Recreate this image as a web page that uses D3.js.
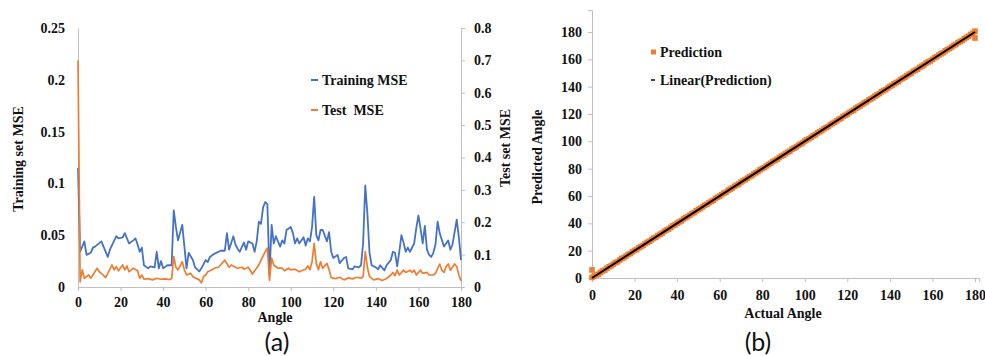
<!DOCTYPE html>
<html>
<head>
  <meta charset="utf-8">
  <title>MSE per angle and predicted vs actual angle</title>
  <script src="https://d3js.org/d3.v7.min.js"></script>
  <style>
    body { margin: 0; background: #fff; }
    text { font-family: "Liberation Serif", "Times New Roman", serif; font-weight: bold; font-size: 14px; fill: #111; }
    .panel-label { font-family: Lato, "Open Sans", sans-serif; font-weight: normal; font-size: 25px; }
    .axis path, .axis line { stroke: #bfbfbf; }
  </style>
</head>
<body>
  <svg width="985" height="356"></svg>
  <script>
    // (a) training / test MSE per angle
    const trainAngle = [0,1,3,4,6,7,8,11,12,14,15,18,19,21,22,23,24,26,27,28,29,30,31,33,34,36,37,38,39,40,42,44,45,46,47,49,50,51,52,54,55,57,58,60,61,62,64,67,69,70,71,73,74,75,76,78,79,80,82,83,84,85,86,87,88,89,90,91,92,93,95,96,97,98,100,101,102,103,104,106,107,108,109,110,111,112,113,114,115,117,118,119,120,122,123,125,126,127,129,130,132,133,134,135,136,137,138,140,141,142,144,145,147,148,149,150,151,152,153,154,155,156,158,159,160,161,162,163,164,165,166,167,168,169,170,172,173,174,175,176,178,179,180];
    const trainMSE = [0.115,0.034,0.044,0.031,0.033,0.038,0.039,0.044,0.039,0.029,0.036,0.049,0.047,0.048,0.052,0.047,0.042,0.045,0.047,0.041,0.034,0.038,0.021,0.018,0.020,0.019,0.034,0.018,0.025,0.018,0.021,0.021,0.074,0.058,0.045,0.060,0.039,0.018,0.033,0.026,0.019,0.015,0.018,0.026,0.024,0.029,0.032,0.035,0.035,0.052,0.036,0.049,0.041,0.037,0.034,0.043,0.036,0.044,0.042,0.034,0.044,0.063,0.061,0.077,0.082,0.080,0.012,0.060,0.042,0.049,0.039,0.045,0.042,0.055,0.058,0.052,0.042,0.047,0.042,0.048,0.040,0.047,0.044,0.058,0.087,0.050,0.045,0.055,0.055,0.044,0.053,0.034,0.028,0.031,0.023,0.028,0.029,0.018,0.017,0.020,0.019,0.021,0.042,0.098,0.071,0.033,0.021,0.019,0.017,0.021,0.016,0.021,0.026,0.034,0.033,0.020,0.034,0.050,0.043,0.034,0.038,0.034,0.042,0.057,0.069,0.056,0.042,0.059,0.036,0.031,0.029,0.033,0.041,0.063,0.052,0.039,0.042,0.045,0.036,0.041,0.065,0.048,0.026];

    const testAngle = [0,1,2,3,5,6,9,10,11,13,14,16,17,18,19,21,22,23,24,26,28,29,30,31,33,35,37,39,41,43,44,45,46,47,49,50,51,53,54,57,58,59,60,61,63,64,66,67,69,71,72,74,75,77,78,80,82,83,85,86,88,89,90,91,92,94,96,97,99,100,102,104,105,107,108,109,110,111,112,113,114,115,117,118,119,121,123,125,127,129,131,133,134,135,136,137,139,141,143,145,147,148,149,150,151,153,154,156,157,158,159,161,162,164,165,167,168,170,171,172,173,174,175,177,178,179,180];
    const testMSE = [0.70,0.016,0.053,0.027,0.037,0.027,0.058,0.047,0.042,0.029,0.042,0.068,0.053,0.063,0.050,0.068,0.053,0.065,0.047,0.058,0.050,0.027,0.037,0.024,0.026,0.022,0.027,0.024,0.025,0.023,0.026,0.094,0.061,0.053,0.078,0.053,0.037,0.042,0.032,0.022,0.013,0.032,0.037,0.047,0.053,0.058,0.061,0.068,0.083,0.061,0.068,0.061,0.058,0.061,0.055,0.061,0.040,0.050,0.068,0.083,0.109,0.120,0.020,0.089,0.068,0.058,0.058,0.050,0.058,0.053,0.055,0.047,0.050,0.055,0.065,0.053,0.078,0.135,0.073,0.053,0.078,0.058,0.073,0.053,0.029,0.026,0.030,0.022,0.028,0.025,0.030,0.027,0.032,0.109,0.061,0.032,0.022,0.026,0.020,0.026,0.037,0.045,0.035,0.052,0.037,0.052,0.045,0.052,0.045,0.052,0.037,0.052,0.042,0.045,0.037,0.037,0.042,0.071,0.052,0.045,0.063,0.071,0.052,0.071,0.063,0.037,0.019];

    const angleTicks = [0, 20, 40, 60, 80, 100, 120, 140, 160, 180];
    const trainTicks = [0, 0.05, 0.1, 0.15, 0.2, 0.25];
    const testTicks = [0, 0.1, 0.2, 0.3, 0.4, 0.5, 0.6, 0.7, 0.8];

    // (b) predicted vs actual angle, one point per degree
    const actualAngle = d3.range(0, 181);
    const predictedAngle = [
      5.9, 1.3, 2.2, 2.8, 4.1, 5.2, 5.8, 7.1, 8.2, 8.9,
      10.1, 11.2, 11.8, 13.1, 14.3, 14.9, 16.0, 17.2, 17.9, 19.1,
      20.2, 20.8, 22.1, 23.0, 23.8, 25.2, 26.1, 26.9, 28.0, 29.2,
      29.8, 31.1, 32.0, 32.9, 34.2, 35.1, 35.8, 37.0, 38.2, 38.9,
      40.1, 41.0, 41.8, 43.2, 44.1, 44.9, 46.0, 47.1, 47.8, 49.2,
      50.1, 50.9, 52.0, 53.2, 53.9, 55.1, 56.0, 56.8, 58.2, 59.1,
      59.9, 61.0, 62.1, 62.8, 64.2, 65.0, 65.9, 67.1, 68.0, 68.8,
      70.2, 71.1, 71.9, 73.0, 74.2, 74.8, 76.1, 77.0, 77.9, 79.2,
      80.1, 80.8, 82.0, 83.1, 83.9, 85.2, 86.0, 86.8, 88.1, 89.2,
      89.9, 91.0, 92.1, 92.8, 94.2, 95.0, 95.9, 97.1, 98.0, 98.8,
      100.2, 101.1, 101.9, 103.0, 104.1, 104.8, 106.2, 107.0, 107.9, 109.1,
      110.0, 110.8, 112.2, 113.1, 113.9, 115.0, 116.1, 116.8, 118.2, 119.0,
      119.9, 121.1, 122.0, 122.8, 124.2, 125.1, 125.9, 127.0, 128.1, 128.9,
      130.2, 131.0, 131.8, 133.1, 134.0, 134.9, 136.2, 137.1, 137.8, 139.0,
      140.2, 140.9, 142.1, 143.0, 143.8, 145.2, 146.1, 146.9, 148.0, 149.1,
      149.9, 151.2, 152.0, 152.8, 154.1, 155.0, 155.9, 157.2, 158.1, 158.8,
      160.0, 161.2, 161.9, 163.1, 164.0, 164.8, 166.2, 167.1, 167.9, 169.0,
      170.1, 170.9, 172.2, 173.0, 173.8, 175.1, 176.0, 176.9, 178.2, 179.1,
      175.6
    ];
    // a couple of extra points at the ends of the band
    const extraActual = [0, 180];
    const extraPredicted = [0.4, 180.6];
    const trendActual = [0, 180];
    const trendPredicted = [0, 180];
    const predTicks = [0, 20, 40, 60, 80, 100, 120, 140, 160, 180];

    const svg = d3.select("svg");

    // ---------- panel (a) ----------
    const xA = d3.scaleLinear().domain([0, 180]).range([78, 461]);
    const yTrain = d3.scaleLinear().domain([0, 0.25]).range([287, 28]);
    const yTest = d3.scaleLinear().domain([0, 0.8]).range([287, 28]);

    const gA = svg.append("g");

    // left axis: faint line only, labels on the left
    gA.append("g").attr("class", "axis")
      .attr("transform", "translate(78,0)")
      .call(d3.axisLeft(yTrain).tickValues(trainTicks).tickSize(0).tickPadding(13)
        .tickFormat(d => d === 0 ? "0" : String(+d.toFixed(2))))
      .call(g => g.select(".domain").attr("stroke", "#e6e6e6"));

    gA.append("g").attr("class", "axis")
      .attr("transform", "translate(461,0)")
      .call(d3.axisRight(yTest).tickValues(testTicks).tickSize(4).tickPadding(9)
        .tickFormat(d => d === 0 ? "0" : String(+d.toFixed(1))));

    gA.append("g").attr("class", "axis")
      .attr("transform", "translate(0,287)")
      .call(d3.axisBottom(xA).tickValues(angleTicks).tickSize(4).tickPadding(6));

    svg.selectAll(".axis text").style("font-size", "14px").attr("fill", "#111");

    const lineTrain = d3.line().x((d, i) => xA(trainAngle[i])).y(d => yTrain(d));
    const lineTest = d3.line().x((d, i) => xA(testAngle[i])).y(d => yTest(d));

    gA.append("path").datum(trainMSE)
      .attr("d", lineTrain).attr("fill", "none")
      .attr("stroke", "#4472c4").attr("stroke-width", 1.8).attr("stroke-linejoin", "round");
    gA.append("path").datum(testMSE)
      .attr("d", lineTest).attr("fill", "none")
      .attr("stroke", "#ed7d31").attr("stroke-width", 1.7).attr("stroke-linejoin", "round");

    // legend (a)
    const legA = [
      { label: "Training MSE", color: "#4472c4", y: 80 },
      { label: "Test\u00a0 MSE", color: "#ed7d31", y: 110 }
    ];
    legA.forEach(l => {
      gA.append("line").attr("x1", 311).attr("x2", 318).attr("y1", l.y).attr("y2", l.y)
        .attr("stroke", l.color).attr("stroke-width", 2);
      gA.append("text").attr("x", 322).attr("y", l.y + 5).text(l.label);
    });

    // axis titles (a)
    gA.append("text").attr("transform", "translate(23,159) rotate(-90)")
      .attr("text-anchor", "middle").text("Training set MSE");
    gA.append("text").attr("transform", "translate(510,148) rotate(-90)")
      .attr("text-anchor", "middle").text("Test set MSE");
    gA.append("text").attr("x", 275).attr("y", 322).attr("text-anchor", "middle").text("Angle");
    gA.append("text").attr("class", "panel-label").attr("x", 277).attr("y", 351)
      .attr("text-anchor", "middle").text("(a)");

    // ---------- panel (b) ----------
    const xB = d3.scaleLinear().domain([0, 182]).range([592, 592 + 383 * 182 / 180]);
    const yB = d3.scaleLinear().domain([0, 196]).range([278, 278 - 196 * 246 / 180]);

    const gB = svg.append("g");

    gB.append("g").attr("class", "axis")
      .attr("transform", "translate(592,0)")
      .call(d3.axisLeft(yB).tickValues(predTicks).tickSize(4).tickPadding(6));
    gB.append("g").attr("class", "axis")
      .attr("transform", "translate(0,278)")
      .call(d3.axisBottom(xB).tickValues(angleTicks).tickSize(4).tickPadding(8));

    svg.selectAll(".axis text").style("font-size", "14px").attr("fill", "#111");

    // prediction points (orange squares)
    const pts = actualAngle.map((a, i) => ({ a: a, p: predictedAngle[i] }))
      .concat(extraActual.map((a, i) => ({ a: a, p: extraPredicted[i] })));
    gB.selectAll("rect.pt").data(pts).enter().append("rect")
      .attr("class", "pt")
      .attr("x", d => xB(d.a) - 2.8).attr("y", d => yB(d.p) - 2.8)
      .attr("width", 5.6).attr("height", 5.6)
      .attr("fill", "#ed7d31");

    // linear trend line
    gB.append("path").datum(trendActual)
      .attr("d", d3.line().x(d => xB(d)).y((d, i) => yB(trendPredicted[i])))
      .attr("stroke", "#000").attr("stroke-width", 2).attr("fill", "none");

    // legend (b)
    gB.append("rect").attr("x", 651).attr("y", 49.5).attr("width", 5).attr("height", 5).attr("fill", "#ed7d31");
    gB.append("text").attr("x", 660).attr("y", 57).text("Prediction");
    gB.append("line").attr("x1", 651).attr("x2", 655).attr("y1", 80).attr("y2", 80)
      .attr("stroke", "#000").attr("stroke-width", 1.5);
    gB.append("text").attr("x", 660).attr("y", 85).text("Linear(Prediction)");

    gB.append("text").attr("transform", "translate(542,157) rotate(-90)")
      .attr("text-anchor", "middle").text("Predicted Angle");
    gB.append("text").attr("x", 783).attr("y", 318).attr("text-anchor", "middle").text("Actual Angle");
    gB.append("text").attr("class", "panel-label").attr("x", 758).attr("y", 351)
      .attr("text-anchor", "middle").text("(b)");
  </script>
</body>
</html>
